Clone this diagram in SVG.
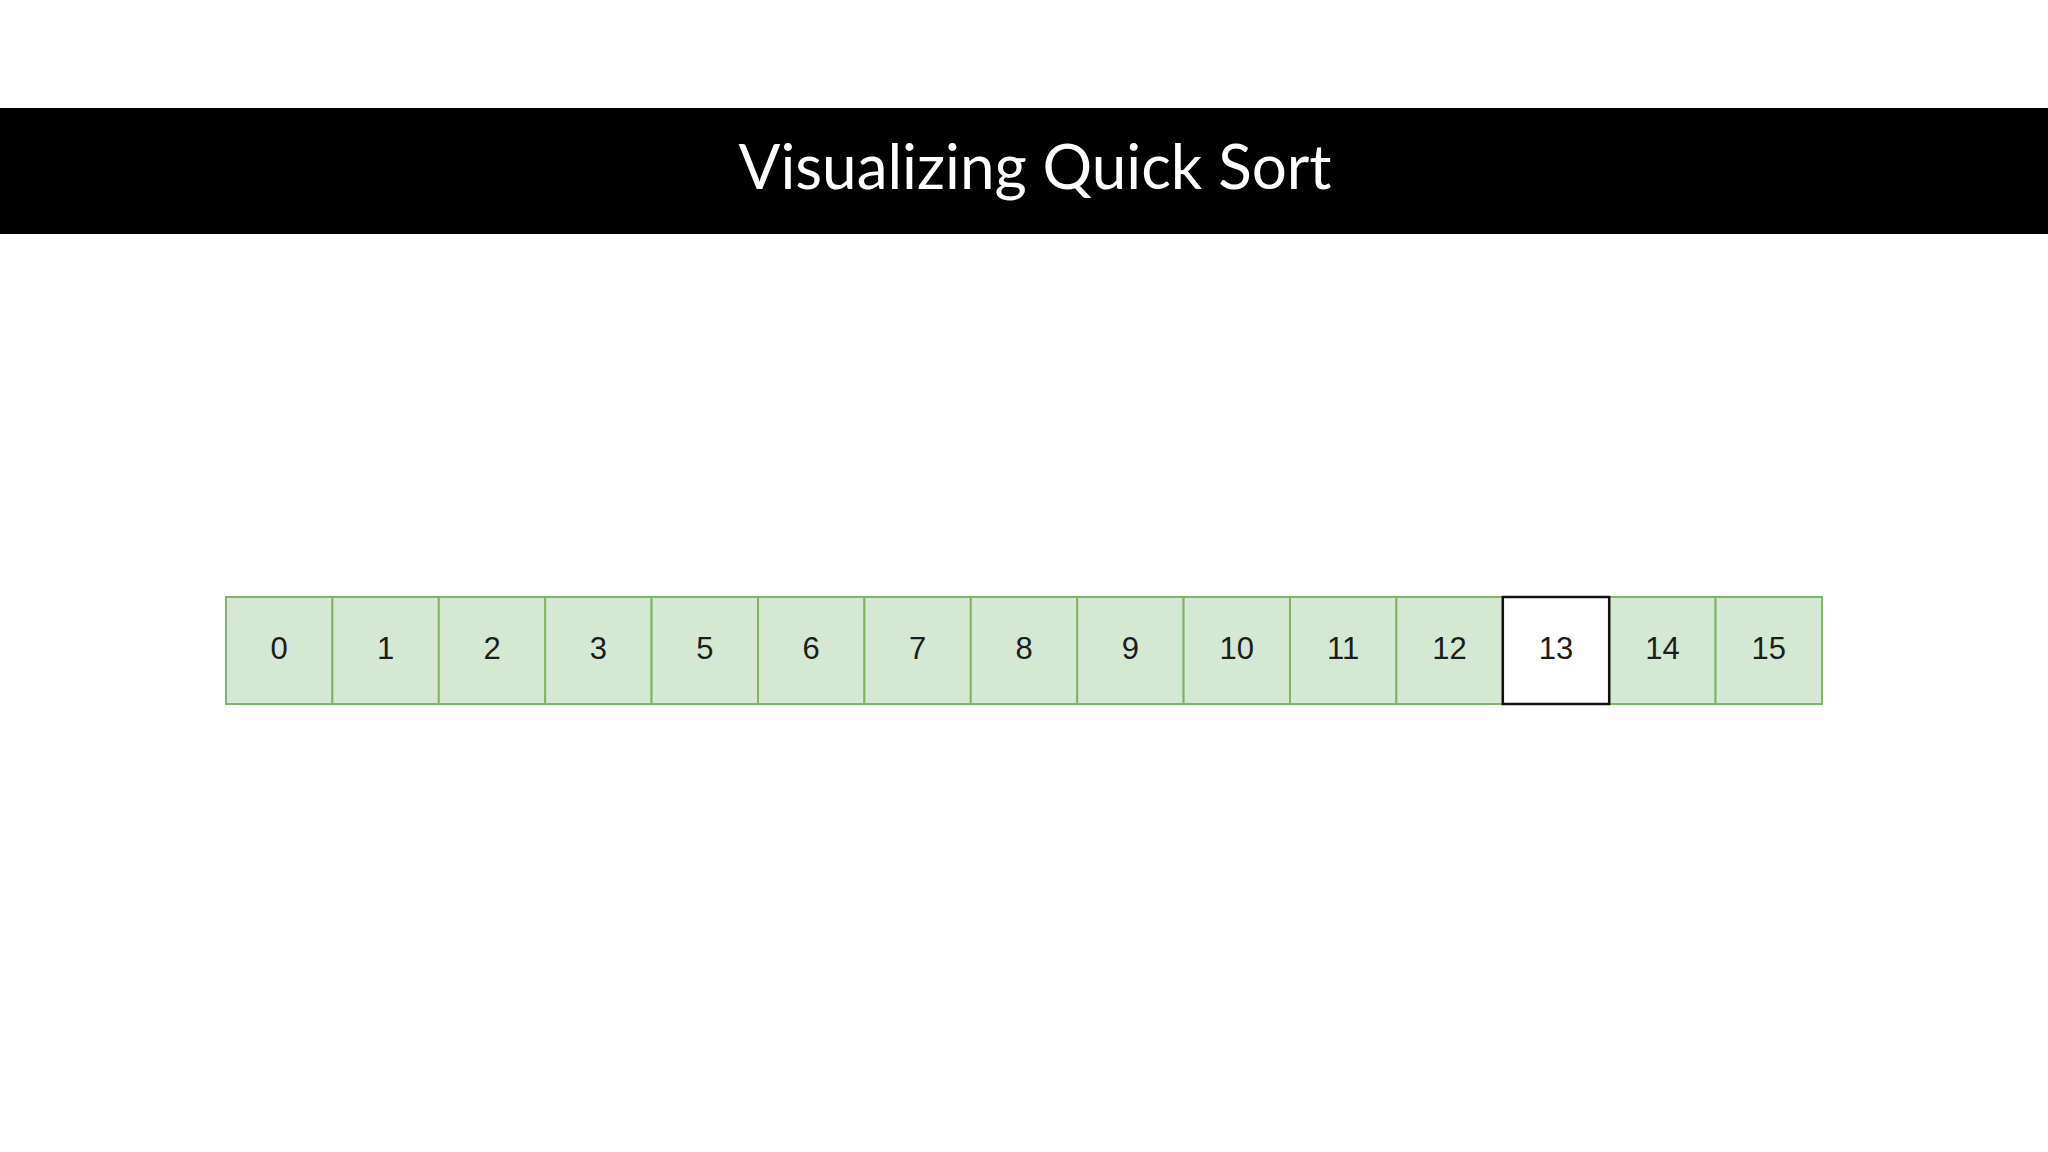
<svg xmlns="http://www.w3.org/2000/svg" width="2048" height="1152" viewBox="0 0 2048 1152">
<style>
.cell rect{fill:#d5e8d4;stroke:#82b366;stroke-width:2}
.cell text{font-family:"Liberation Sans",Arial,sans-serif;font-size:31px;fill:#1c1c1c;text-anchor:middle;dominant-baseline:central}
.cell.sel rect{fill:#ffffff;stroke:#111;stroke-width:2.5}
.title{font-family:Lato,"Open Sans",sans-serif;font-size:62px;fill:#fff;text-anchor:middle}
</style>
<rect width="2048" height="1152" fill="#fefefe"/>
<g id="header">
<rect x="0" y="108" width="2048" height="126" fill="#000"/>
<text class="title" x="1035" y="189">Visualizing Quick Sort</text>
</g>
<g id="array">
<g id="c0" class="cell"><rect x="226" y="597" width="106.4" height="107"/><text x="279.2" y="648">0</text></g>
<g id="c1" class="cell"><rect x="332.4" y="597" width="106.4" height="107"/><text x="385.6" y="648">1</text></g>
<g id="c2" class="cell"><rect x="438.8" y="597" width="106.4" height="107"/><text x="492" y="648">2</text></g>
<g id="c3" class="cell"><rect x="545.2" y="597" width="106.4" height="107"/><text x="598.4" y="648">3</text></g>
<g id="c4" class="cell"><rect x="651.6" y="597" width="106.4" height="107"/><text x="704.8" y="648">5</text></g>
<g id="c5" class="cell"><rect x="758" y="597" width="106.4" height="107"/><text x="811.2" y="648">6</text></g>
<g id="c6" class="cell"><rect x="864.4" y="597" width="106.4" height="107"/><text x="917.6" y="648">7</text></g>
<g id="c7" class="cell"><rect x="970.8" y="597" width="106.4" height="107"/><text x="1024" y="648">8</text></g>
<g id="c8" class="cell"><rect x="1077.2" y="597" width="106.4" height="107"/><text x="1130.4" y="648">9</text></g>
<g id="c9" class="cell"><rect x="1183.6" y="597" width="106.4" height="107"/><text x="1236.8" y="648">10</text></g>
<g id="c10" class="cell"><rect x="1290" y="597" width="106.4" height="107"/><text x="1343.2" y="648">11</text></g>
<g id="c11" class="cell"><rect x="1396.4" y="597" width="106.4" height="107"/><text x="1449.6" y="648">12</text></g>
<g id="c13" class="cell"><rect x="1609.2" y="597" width="106.4" height="107"/><text x="1662.4" y="648">14</text></g>
<g id="c14" class="cell"><rect x="1715.6" y="597" width="106.4" height="107"/><text x="1768.8" y="648">15</text></g>
<g id="c12" class="cell sel"><rect x="1502.8" y="597" width="106.4" height="107"/><text x="1556" y="648">13</text></g>
</g>
<g id="connectors"></g>
</svg>
